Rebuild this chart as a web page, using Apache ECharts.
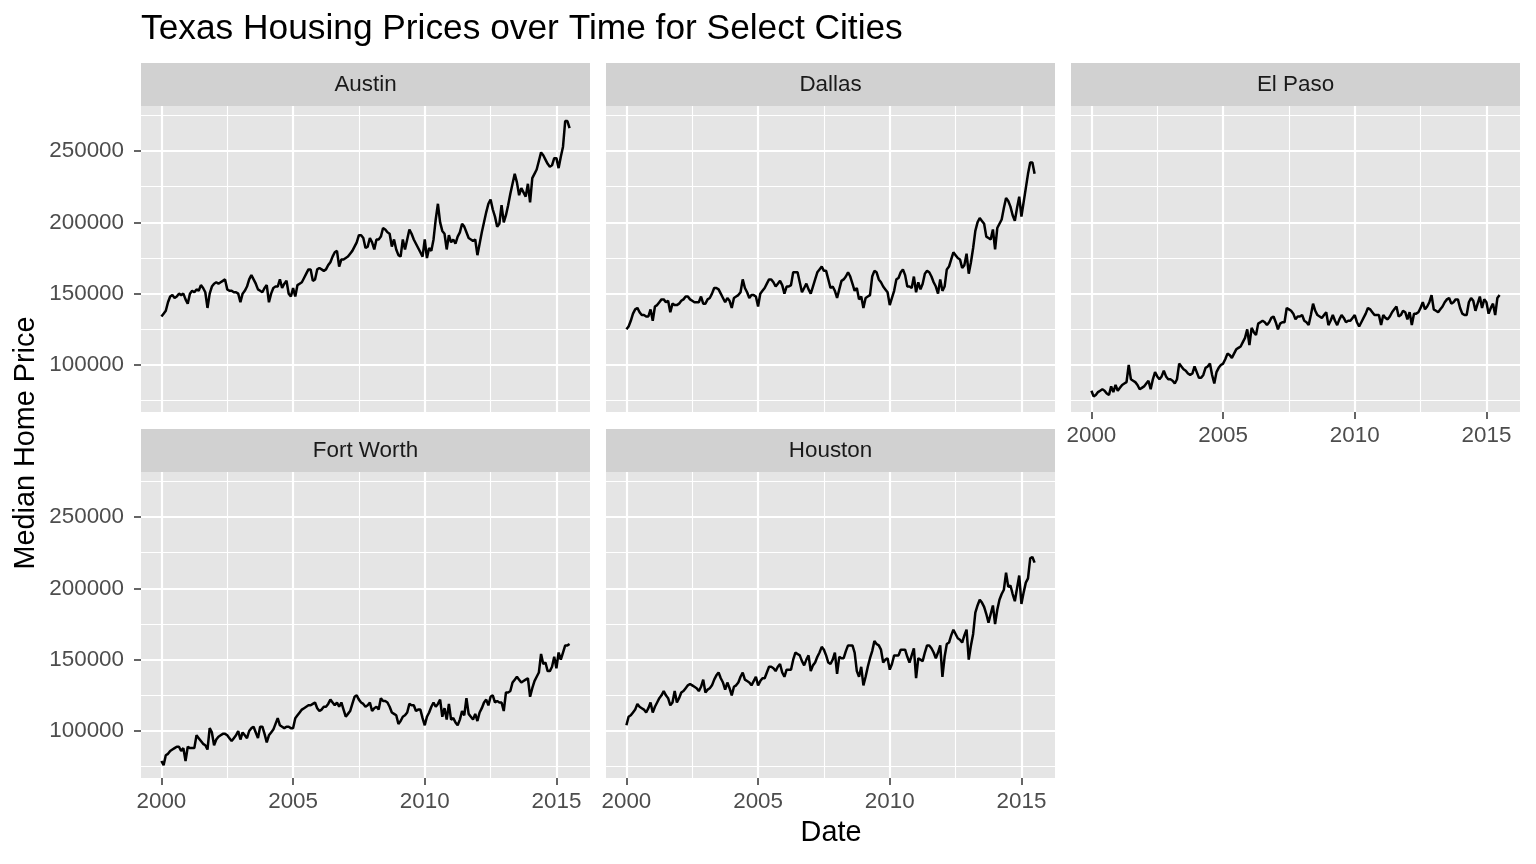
<!DOCTYPE html>
<html><head><meta charset="utf-8">
<script src="https://cdn.jsdelivr.net/npm/echarts@6/dist/echarts.min.js"></script>
<style>html,body{margin:0;padding:0;background:#fff}#c{width:1536px;height:864px}</style>
</head><body><div id="c"></div>
<script>
// ---- data (monthly median price, Jan 2000 .. Jul 2015) ----
const cities = ['Austin', 'Dallas', 'El Paso', 'Fort Worth', 'Houston'];
const startYear = 2000;
const xTickLabels = [2000, 2005, 2010, 2015];
const xMinorBreaks = [2002.5, 2007.5, 2012.5];
const yTickLabels = [100000, 150000, 200000, 250000];
const yMinorBreaks = [75000, 125000, 175000, 225000, 275000];

const austin = [
134000,136000,138000,144000,148000,149000,147000,148000,150000,149000,150000,146000,
143000,150000,152000,151000,153000,152000,156000,154000,151000,140000,150000,155000,
157000,158000,157000,158000,159000,160000,153000,152000,152000,151000,151000,150000,
144000,150000,152000,155000,160000,163000,160000,157000,153000,152000,151000,154000,
156000,144000,150000,154000,155000,155000,160000,154000,157000,159000,150000,148000,
154000,148000,156000,157000,158000,161000,164000,167000,167000,159000,160000,167000,
168000,167000,166000,167000,170000,172000,176000,179000,180000,169000,174000,174000,
175000,176000,178000,180000,183000,186000,191000,191000,189000,182000,183000,189000,
186000,181000,188000,188000,190000,196000,195000,193000,192000,183000,188000,181000,
177000,176000,188000,181000,188000,195000,192000,188000,185000,182000,179000,176000,
188000,175000,182000,180000,188000,202000,213000,200000,194000,192000,181000,191000,
186000,188000,185000,190000,193000,199000,197000,193000,189000,188000,187000,188000,
177000,185000,193000,200000,207000,213000,216000,209000,204000,197000,199000,212000,
200000,205000,212000,220000,227000,234000,228000,219000,224000,221000,218000,227000,
214000,231000,234000,237000,243000,249000,247000,244000,241000,239000,240000,245000,
245000,238000,246000,253000,271000,271000,266000];

const dallas = [
125000,127000,131000,136000,139000,140000,137000,135000,135000,134000,134000,139000,
131000,141000,142000,144000,146000,146000,144000,145000,137000,143000,142000,142000,
143000,145000,146000,148000,148000,146000,145000,144000,144000,144000,148000,143000,
143000,146000,147000,150000,154000,154000,153000,150000,147000,144000,147000,145000,
140000,147000,148000,149000,151000,160000,154000,151000,147000,149000,149000,148000,
141000,150000,152000,154000,157000,160000,160000,158000,155000,157000,159000,156000,
150000,155000,155000,156000,165000,165000,165000,158000,151000,154000,157000,153000,
150000,155000,160000,165000,167000,169000,166000,166000,160000,154000,155000,152000,
147000,153000,159000,160000,162000,165000,162000,157000,152000,154000,146000,148000,
140000,147000,148000,149000,162000,166000,165000,160000,158000,155000,153000,151000,
142000,147000,152000,160000,161000,165000,167000,163000,155000,155000,154000,162000,
151000,158000,153000,157000,164000,166000,165000,162000,158000,155000,150000,160000,
152000,155000,167000,169000,174000,179000,177000,175000,174000,168000,170000,178000,
164000,172000,182000,194000,200000,203000,201000,199000,190000,189000,188000,195000,
181000,196000,199000,202000,210000,217000,215000,211000,205000,201000,210000,218000,
204000,214000,224000,234000,242000,242000,234000];

const elPaso = [
82000,78000,79000,81000,82000,83000,82000,80000,79000,85000,81000,86000,
82000,84000,86000,87000,88000,100000,90000,89000,88000,86000,83000,84000,
85000,87000,89000,83000,90000,95000,92000,90000,92000,96000,92000,90000,
90000,89000,87000,90000,101000,99000,97000,96000,94000,93000,94000,99000,
95000,91000,91000,93000,98000,99000,101000,93000,87000,95000,98000,100000,
101000,104000,108000,107000,105000,108000,111000,112000,113000,116000,119000,125000,
114000,126000,123000,121000,129000,130000,131000,130000,128000,130000,133000,134000,
130000,125000,129000,130000,130000,140000,139000,138000,136000,132000,134000,134000,
135000,131000,130000,128000,135000,143000,138000,135000,134000,133000,135000,137000,
128000,131000,135000,131000,128000,132000,135000,133000,130000,131000,131000,133000,
135000,130000,127000,130000,133000,136000,140000,139000,137000,135000,135000,135000,
128000,135000,133000,132000,134000,137000,139000,141000,134000,135000,138000,137000,
132000,137000,128000,136000,136000,137000,140000,144000,139000,141000,144000,149000,
139000,138000,137000,139000,141000,144000,146000,147000,143000,144000,146000,146000,
140000,136000,135000,135000,144000,147000,145000,138000,143000,148000,140000,146000,
144000,136000,140000,143000,135000,147000,149000];

const fortWorth = [
79000,76000,83000,84000,86000,87000,88000,89000,89000,86000,88000,79000,
89000,88000,88000,88000,97000,95000,93000,91000,90000,87000,102000,99000,
90000,94000,96000,97000,98000,98000,97000,95000,93000,95000,97000,100000,
94000,99000,97000,95000,100000,102000,103000,99000,95000,103000,103000,98000,
92000,97000,99000,101000,105000,109000,104000,103000,102000,103000,103000,102000,
102000,109000,111000,113000,115000,116000,117000,118000,118000,119000,120000,116000,
114000,115000,117000,117000,119000,122000,120000,118000,120000,117000,120000,115000,
110000,112000,114000,119000,124000,125000,122000,120000,119000,117000,118000,120000,
114000,116000,117000,115000,123000,121000,121000,120000,117000,113000,112000,111000,
105000,107000,110000,111000,113000,119000,118000,118000,114000,115000,115000,109000,
104000,110000,113000,117000,120000,117000,119000,122000,110000,116000,108000,119000,
108000,109000,106000,104000,108000,114000,111000,123000,112000,110000,108000,112000,
107000,113000,116000,120000,122000,118000,124000,125000,120000,121000,120000,120000,
114000,127000,127000,128000,134000,136000,138000,136000,134000,135000,136000,137000,
124000,130000,135000,138000,141000,154000,147000,148000,142000,142000,145000,152000,
144000,155000,150000,155000,160000,160000,161000];

const houston = [
104000,110000,111000,113000,115000,119000,117000,116000,115000,113000,116000,120000,
113000,117000,120000,123000,125000,128000,125000,123000,118000,120000,128000,120000,
123000,127000,128000,130000,132000,133000,132000,131000,130000,128000,131000,136000,
127000,129000,130000,132000,136000,139000,141000,137000,134000,129000,134000,130000,
125000,131000,132000,134000,138000,141000,136000,135000,134000,132000,135000,138000,
132000,135000,137000,137000,141000,145000,145000,144000,142000,145000,147000,141000,
138000,143000,143000,143000,150000,155000,154000,153000,149000,146000,150000,153000,
142000,146000,148000,152000,155000,159000,157000,153000,148000,147000,150000,155000,
140000,152000,151000,151000,156000,160000,160000,160000,155000,142000,138000,145000,
132000,138000,145000,151000,156000,163000,161000,160000,157000,148000,150000,151000,
143000,147000,153000,153000,153000,157000,157000,157000,152000,148000,153000,158000,
137000,151000,150000,149000,155000,160000,160000,158000,155000,151000,155000,160000,
138000,152000,161000,162000,167000,171000,168000,165000,164000,162000,167000,171000,
150000,160000,168000,183000,188000,192000,190000,187000,182000,176000,182000,188000,
175000,185000,192000,196000,199000,211000,201000,202000,196000,191000,200000,209000,
189000,197000,204000,207000,221000,222000,218000];

const cityValues = [austin, dallas, elPaso, fortWorth, houston];

// ---- layout ----
const FONT = "'Liberation Sans', Arial, Helvetica, sans-serif";
const X_MIN = 1999.225, X_MAX = 2016.275;
const Y_MIN = 67060, Y_MAX = 281540;
const PW = 449, PH = 306, STRIP_H = 43;
const panels = [
  {left: 141, top: 106, xLab: false, yLab: true},
  {left: 606, top: 106, xLab: false, yLab: false},
  {left: 1071, top: 106, xLab: true, yLab: false},
  {left: 141, top: 472, xLab: true, yLab: true},
  {left: 606, top: 472, xLab: true, yLab: false}
];

const grids = [], xAxes = [], yAxes = [], series = [], graphics = [];
panels.forEach((p, i) => {
  grids.push({left: p.left, top: p.top, width: PW, height: PH, containLabel: false,
    outerBoundsMode: 'none', show: true, backgroundColor: '#E5E5E5', borderWidth: 0});
  // major x
  xAxes.push({type: 'value', gridIndex: i, min: X_MIN, max: X_MAX, position: 'bottom',
    axisLine: {show: false},
    axisTick: {show: p.xLab, customValues: xTickLabels, length: 7, lineStyle: {color: '#333333', width: 1.5}},
    axisLabel: {show: p.xLab, customValues: xTickLabels, formatter: v => String(Math.round(v)),
      color: '#4D4D4D', fontSize: 22.4, fontFamily: FONT, margin: 13},
    splitLine: {show: true, lineStyle: {color: '#FFFFFF', width: 2.2}}});
  // minor x
  xAxes.push({type: 'value', gridIndex: i, min: X_MIN, max: X_MAX, position: 'top',
    axisLine: {show: false},
    axisTick: {show: false, customValues: xMinorBreaks},
    axisLabel: {show: false, customValues: xMinorBreaks},
    splitLine: {show: true, lineStyle: {color: '#FFFFFF', width: 1.1}}});
  // major y
  yAxes.push({type: 'value', gridIndex: i, min: Y_MIN, max: Y_MAX, position: 'left',
    axisLine: {show: false},
    axisTick: {show: p.yLab, customValues: yTickLabels, length: 7, lineStyle: {color: '#333333', width: 1.5}},
    axisLabel: {show: p.yLab, customValues: yTickLabels, formatter: v => String(Math.round(v)),
      color: '#4D4D4D', fontSize: 22.4, fontFamily: FONT, margin: 17},
    splitLine: {show: true, lineStyle: {color: '#FFFFFF', width: 2.2}}});
  // minor y
  yAxes.push({type: 'value', gridIndex: i, min: Y_MIN, max: Y_MAX, position: 'right',
    axisLine: {show: false},
    axisTick: {show: false, customValues: yMinorBreaks},
    axisLabel: {show: false, customValues: yMinorBreaks},
    splitLine: {show: true, lineStyle: {color: '#FFFFFF', width: 1.1}}});

  const vals = cityValues[i];
  series.push({type: 'line', name: cities[i], xAxisIndex: 2 * i, yAxisIndex: 2 * i,
    data: vals.map((v, k) => [startYear + k / 12, v]),
    showSymbol: false, symbol: 'none', lineStyle: {color: '#000000', width: 2.5},
    itemStyle: {color: '#000'}, silent: true, animation: false});

  // strip
  graphics.push({type: 'rect', shape: {x: p.left, y: p.top - STRIP_H, width: PW, height: STRIP_H},
    style: {fill: '#D1D1D1'}, silent: true});
  graphics.push({type: 'text', x: p.left + PW / 2, y: p.top - STRIP_H / 2,
    style: {text: cities[i], align: 'center', verticalAlign: 'middle', fontSize: 22.4,
      fontFamily: FONT, fill: '#1A1A1A'}, silent: true});
});

graphics.push({type: 'text', x: 141, y: 29.5,
  style: {text: 'Texas Housing Prices over Time for Select Cities', align: 'left', verticalAlign: 'middle',
    fontSize: 35.3, fontFamily: FONT, fill: '#000000'}});
graphics.push({type: 'text', x: 831, y: 833,
  style: {text: 'Date', align: 'center', verticalAlign: 'middle', fontSize: 28.8, fontFamily: FONT, fill: '#000000'}});
graphics.push({type: 'text', x: 26, y: 443, rotation: Math.PI / 2,
  style: {text: 'Median Home Price', align: 'center', verticalAlign: 'middle', fontSize: 28.8, fontFamily: FONT, fill: '#000000'}});

const chart = echarts.init(document.getElementById('c'), null, {renderer: 'canvas'});
chart.setOption({
  backgroundColor: '#FFFFFF',
  animation: false,
  grid: grids, xAxis: xAxes, yAxis: yAxes, series: series,
  graphic: graphics
});
</script></body></html>
